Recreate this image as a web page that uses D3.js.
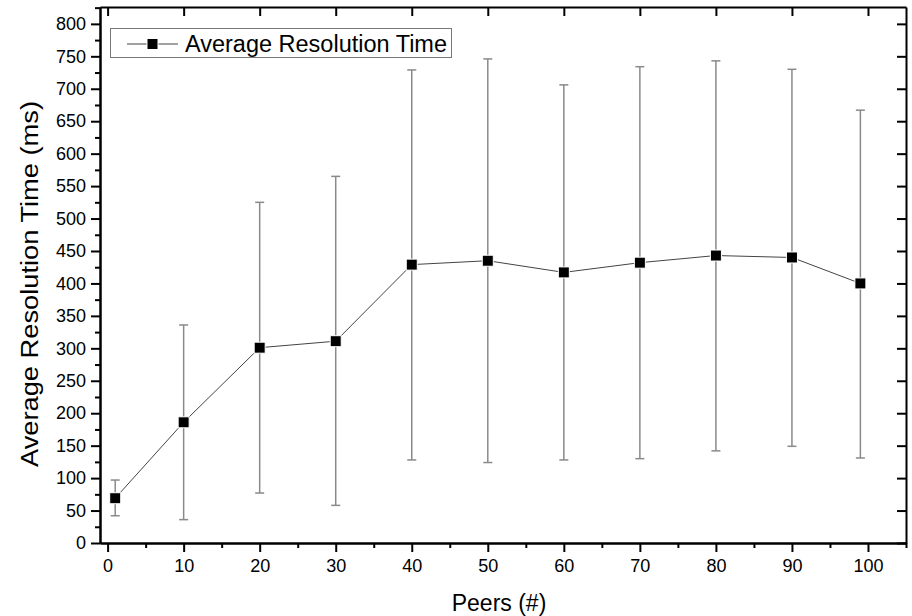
<!DOCTYPE html>
<html>
<head>
<meta charset="utf-8">
<script src="https://cdn.jsdelivr.net/npm/d3@7"></script>
<style>
  body { margin: 0; background: #fff; }
  svg { font-family: "Liberation Sans", Arial, sans-serif; }
  .axis path, .axis line { stroke: #000; stroke-width: 2; }
  .axis text { font-size: 18px; fill: #000; }
</style>
</head>
<body>
<svg id="chart" width="912" height="616"></svg>
<script>
// data
var peers = [1, 10, 20, 30, 40, 50, 60, 70, 80, 90, 99];
var avgTime = [69, 186, 301, 311, 429, 435, 417, 432, 443, 440, 400];
var errLow = [42, 36, 77, 58, 128, 124, 128, 130, 142, 149, 131];
var errHigh = [97, 336, 525, 565, 729, 746, 706, 734, 743, 730, 667];
var xTicks = [0, 10, 20, 30, 40, 50, 60, 70, 80, 90, 100];
var yTicks = [0, 50, 100, 150, 200, 250, 300, 350, 400, 450, 500, 550, 600, 650, 700, 750, 800];
var seriesName = "Average Resolution Time";

var svg = d3.select("#chart");
// plot frame edges (note: "top" is reserved on window, so use prefixed names)
var pLeft = 100, pRight = 906, pTop = 7, pBottom = 543;

var x = d3.scaleLinear().domain([-1, 105]).range([pLeft, pRight]);
var y = d3.scaleLinear().domain([0, 826]).range([pBottom, pTop]);

var rows = peers.map(function(p, i) {
  return { x: p, y: avgTime[i], lo: errLow[i], hi: errHigh[i] };
});

// minor ticks first, majors drawn over them
var xMinor = d3.range(5, 106, 10);
var yMinor = d3.range(25, 826, 50);

svg.append("g").attr("class", "axis")
  .attr("transform", "translate(0," + pBottom + ")")
  .call(d3.axisBottom(x).tickValues(xMinor).tickSize(5).tickSizeOuter(0).tickFormat(""));
svg.append("g").attr("class", "axis")
  .attr("transform", "translate(" + pLeft + ",0)")
  .call(d3.axisLeft(y).tickValues(yMinor).tickSize(5).tickSizeOuter(0).tickFormat(""));

svg.append("g").attr("class", "axis")
  .attr("transform", "translate(0," + pBottom + ")")
  .call(d3.axisBottom(x).tickValues(xTicks).tickSize(9).tickSizeOuter(0).tickPadding(7));
svg.append("g").attr("class", "axis")
  .attr("transform", "translate(" + pLeft + ",0)")
  .call(d3.axisLeft(y).tickValues(yTicks).tickSize(9).tickSizeOuter(0).tickPadding(5));

// top and right frame, ticks pointing inward, no labels
svg.append("g").attr("class", "axis")
  .attr("transform", "translate(0," + pTop + ")")
  .call(d3.axisBottom(x).tickValues(xTicks).tickSize(9).tickSizeOuter(0).tickFormat(""));
svg.append("g").attr("class", "axis")
  .attr("transform", "translate(" + pRight + ",0)")
  .call(d3.axisLeft(y).tickValues(yTicks).tickSize(9).tickSizeOuter(0).tickFormat(""));

// error bars
var eb = svg.append("g").attr("stroke", "#8a8a8a").attr("stroke-width", 1.5);
eb.selectAll(".stem").data(rows).enter().append("line")
  .attr("x1", function(d) { return x(d.x); })
  .attr("x2", function(d) { return x(d.x); })
  .attr("y1", function(d) { return y(d.lo); })
  .attr("y2", function(d) { return y(d.hi); });
eb.selectAll(".capHi").data(rows).enter().append("line")
  .attr("x1", function(d) { return x(d.x) - 4.5; })
  .attr("x2", function(d) { return x(d.x) + 4.5; })
  .attr("y1", function(d) { return y(d.hi); })
  .attr("y2", function(d) { return y(d.hi); });
eb.selectAll(".capLo").data(rows).enter().append("line")
  .attr("x1", function(d) { return x(d.x) - 4.5; })
  .attr("x2", function(d) { return x(d.x) + 4.5; })
  .attr("y1", function(d) { return y(d.lo); })
  .attr("y2", function(d) { return y(d.lo); });

// connecting line
var line = d3.line().x(function(d) { return x(d.x); }).y(function(d) { return y(d.y); });
svg.append("path").datum(rows)
  .attr("d", line)
  .attr("fill", "none")
  .attr("stroke", "#444")
  .attr("stroke-width", 1);

// markers
svg.selectAll(".pt").data(rows).enter().append("rect")
  .attr("x", function(d) { return x(d.x) - 5.5; })
  .attr("y", function(d) { return y(d.y) - 5.5; })
  .attr("width", 11)
  .attr("height", 11)
  .attr("fill", "#000")
  .attr("stroke", "#fff")
  .attr("stroke-width", 1);

// axis titles
svg.append("text")
  .attr("x", 499)
  .attr("y", 611)
  .attr("text-anchor", "middle")
  .attr("font-size", 23)
  .text("Peers (#)");
svg.append("text")
  .attr("transform", "translate(38,284) rotate(-90)")
  .attr("text-anchor", "middle")
  .attr("font-size", 23)
  .attr("textLength", 366)
  .attr("lengthAdjust", "spacingAndGlyphs")
  .text("Average Resolution Time (ms)");

// legend
var lg = svg.append("g");
lg.append("rect")
  .attr("x", 110.5).attr("y", 28.5)
  .attr("width", 341).attr("height", 29)
  .attr("fill", "#fff")
  .attr("stroke", "#777")
  .attr("stroke-width", 1);
lg.append("line")
  .attr("x1", 127).attr("x2", 178)
  .attr("y1", 44).attr("y2", 44)
  .attr("stroke", "#444").attr("stroke-width", 1);
lg.append("rect")
  .attr("x", 147).attr("y", 38.5)
  .attr("width", 11).attr("height", 11)
  .attr("fill", "#000").attr("stroke", "#fff");
lg.append("text")
  .attr("x", 185).attr("y", 52)
  .attr("font-size", 23)
  .attr("textLength", 262)
  .attr("lengthAdjust", "spacingAndGlyphs")
  .text(seriesName);
</script>
</body>
</html>
